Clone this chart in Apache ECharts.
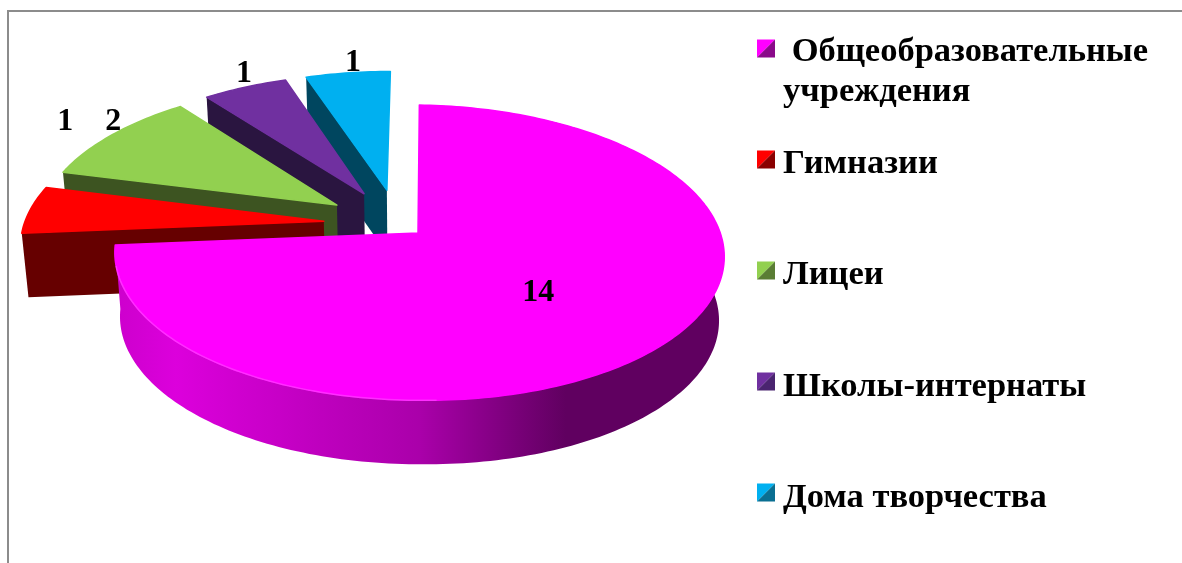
<!DOCTYPE html>
<html>
<head>
<meta charset="utf-8">
<style>
  html, body { margin: 0; padding: 0; background: #fff; }
  #chart { width: 1182px; height: 563px; }
</style>
<script src="https://cdn.jsdelivr.net/npm/echarts@6/dist/echarts.min.js"></script>
</head>
<body>
<div id="chart"></div>
<script>
const categories = [' Общеобразовательные\nучреждения', 'Гимназии', 'Лицеи', 'Школы-интернаты', 'Дома творчества'];
const values = [14, 1, 2, 1, 1];

const topColors = ['#ff00ff', '#ff0000', '#92d050', '#7030a0', '#00b0f0'];
const wallColors = ['#a000a0', '#660000', '#3d5421', '#2a1540', '#00465f'];
const markerDark = ['#8a0a8a', '#8a0000', '#5a7d34', '#4a2470', '#0a6f92'];
const explode = [0.09, 0.25, 0.25, 0.25, 0.25];
const labelNudge = [[-124, -51], [35, -88], [1, -13], [-1, -14], [5, -10]];

const cx = 418, cy = 233, rx = 302, ry = 145;
const persp = 0.133, depth = 64, shrink = 0.983, tilt = 4;
const FONT = '"Liberation Serif", "Times New Roman", serif';

const total = values.reduce((a, b) => a + b, 0);
const dir = a => [Math.sin(a), Math.cos(a)];

const angles = [];
let acc = 0;
values.forEach(v => {
    angles.push([acc / total * Math.PI * 2, (acc + v) / total * Math.PI * 2]);
    acc += v;
});
const mid = i => (angles[i][0] + angles[i][1]) / 2;

// slices are moved relative to the big one, whose tip stays at cx, cy
const offset = i => {
    const d = dir(mid(i)), d0 = dir(mid(0));
    return [explode[i] * d[0] - explode[0] * d0[0], explode[i] * d[1] - explode[0] * d0[1]];
};

const project = (u, v, low) => {
    const s = 1 / (1 + persp * v);
    const f = low ? shrink : 1;
    return [cx + u * s * rx * f, cy - v * s * ry + (low ? depth : 0) + tilt * Math.max(u, 0)];
};

const arcPoints = (i, low) => {
    const off = offset(i), pts = [];
    const [a0, a1] = angles[i];
    const bias = i === 0 ? 0.005 : 0;
    const n = Math.ceil((a1 - a0) / 0.02);
    for (let k = 0; k <= n; k++) {
        const d = dir(a0 + (a1 - a0) * k / n);
        pts.push(project(off[0] + d[0] + bias, off[1] + d[1], low));
    }
    return pts;
};

const sideFill = new echarts.graphic.LinearGradient(0, 0, 1, 0, [
    { offset: 0, color: '#cc00cc' },
    { offset: 0.1, color: '#dc00dc' },
    { offset: 0.5, color: '#aa00aa' },
    { offset: 0.74, color: '#600060' },
    { offset: 1, color: '#600060' }
]);

const renderSlice = (params, api) => {
    const i = params.dataIndex;
    const off = offset(i);
    const tip = project(off[0], off[1], false);
    const tipLow = project(off[0], off[1], true);
    const arcTop = arcPoints(i, false);
    const arcLow = arcPoints(i, true);
    const z = (values.length - i) * 10;
    const children = [];

    // only the big slice shows its round side
    if (i === 0) {
        children.push({
            type: 'polygon',
            z2: z,
            shape: { points: arcTop.concat(arcLow.slice().reverse()) },
            style: { fill: sideFill }
        });
    }
    children.push({
        type: 'polygon',
        z2: z + 1,
        shape: { points: [tip, arcTop[0], arcLow[0], tipLow] },
        style: { fill: i === 0 ? 'transparent' : wallColors[i] }
    }, {
        type: 'polygon',
        z2: z + 2,
        shape: { points: [tip].concat(arcTop) },
        style: { fill: topColors[i], stroke: topColors[i], lineWidth: 1.5, lineJoin: 'round' }
    });

    // pale rim on the lit part of the big slice
    if (i === 0) {
        children.push({
            type: 'polyline',
            z2: z + 3,
            shape: { points: arcTop.filter(p => p[0] < cx + 20 && p[1] > cy + 30) },
            style: { fill: 'none', stroke: 'rgba(255,90,255,0.5)', lineWidth: 1.5 }
        });
    }

    const d = dir(mid(i));
    const edge = project(off[0] + d[0], off[1] + d[1], false);
    children.push({
        type: 'text',
        z2: 100,
        style: {
            x: edge[0] + labelNudge[i][0],
            y: edge[1] + labelNudge[i][1],
            text: String(api.value(0)),
            fill: '#000',
            font: 'bold 32px ' + FONT,
            align: 'center',
            verticalAlign: 'middle'
        }
    });

    return { type: 'group', children };
};

const legendGraphics = [];
categories.forEach((name, i) => {
    const x = 757, y = 39.5 + i * 111, w = 18;
    legendGraphics.push({
        type: 'polygon',
        shape: { points: [[x, y], [x + w, y], [x, y + w]] },
        style: { fill: topColors[i] }
    }, {
        type: 'polygon',
        shape: { points: [[x + w, y], [x + w, y + w], [x, y + w]] },
        style: { fill: markerDark[i] }
    }, {
        type: 'text',
        style: {
            x: 783,
            y: 33 + i * 111.2 - (i === 0 ? 1 : 0),
            text: name,
            fill: '#000',
            font: 'bold 34.5px ' + FONT,
            lineHeight: 40
        }
    });
});

const frame = [
    { type: 'rect', shape: { x: 7, y: 10, width: 1175, height: 2 }, style: { fill: '#8c8c8c' } },
    { type: 'rect', shape: { x: 7, y: 10, width: 2, height: 553 }, style: { fill: '#8c8c8c' } }
];

const chart = echarts.init(document.getElementById('chart'));
chart.setOption({
    animation: false,
    backgroundColor: '#fff',
    graphic: frame.concat(legendGraphics),
    series: [{
        type: 'custom',
        coordinateSystem: 'none',
        silent: true,
        renderItem: renderSlice,
        data: values.map((v, i) => ({ name: categories[i], value: [v] }))
    }]
});
</script>
</body>
</html>
